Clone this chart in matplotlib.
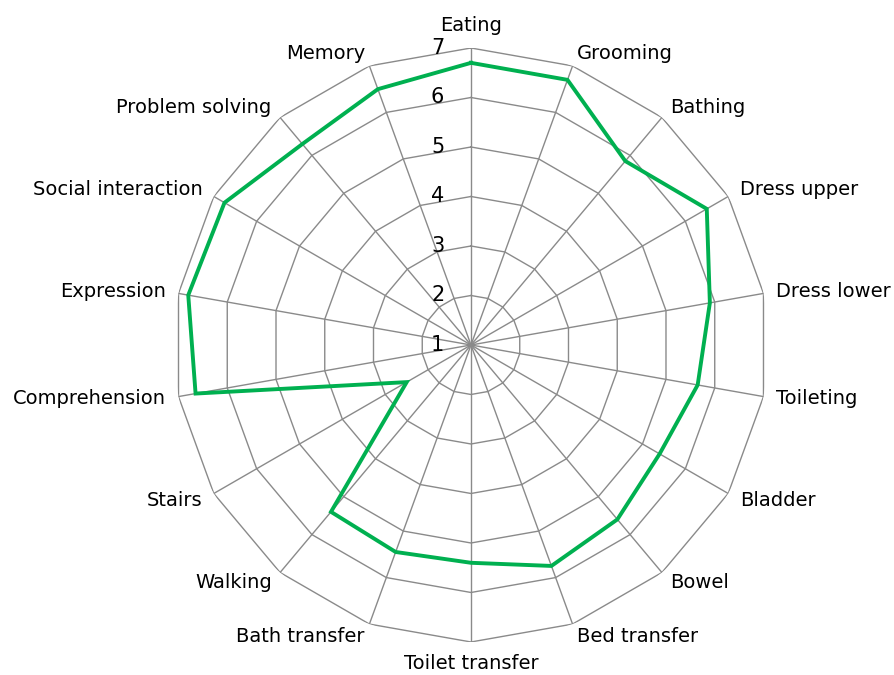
import numpy as np
import matplotlib
matplotlib.use('Agg')
import matplotlib.pyplot as plt

# --- data ---
categories = ['Eating', 'Grooming', 'Bathing', 'Dress upper', 'Dress lower',
              'Toileting', 'Bladder', 'Bowel', 'Bed transfer', 'Toilet transfer',
              'Bath transfer', 'Walking', 'Stairs', 'Comprehension', 'Expression',
              'Social interaction', 'Problem solving', 'Memory']
scores = [6.7, 6.7, 5.85, 6.5, 5.9, 5.65, 5.4, 5.6, 5.75, 5.4,
          5.45, 5.4, 2.5, 6.65, 6.8, 6.75, 6.3, 6.5]
rings = [2, 3, 4, 5, 6, 7]
tick_labels = ['1', '2', '3', '4', '5', '6', '7']

grid_col = '#8a8a8a'
green = '#00b050'

n = len(categories)
angles = np.arange(n) * 2 * np.pi / n

fig = plt.figure(figsize=(8.95, 6.75), dpi=100)
ax = fig.add_axes([0.1944, 0.0489, 0.6637, 0.8800], projection='polar')
ax.set_theta_zero_location('N')
ax.set_theta_direction(-1)
ax.set_ylim(1, 7)
ax.grid(False)
ax.set_xticks([])
ax.set_yticks([])
ax.spines['polar'].set_visible(False)
ax.patch.set_visible(False)

# polygon rings
closed = np.append(angles, angles[0])
for r in rings:
    ax.plot(closed, [r] * (n + 1), color=grid_col, lw=1.0, zorder=1)
# spokes
for a in angles:
    ax.plot([a, a], [1, 7], color=grid_col, lw=1.0, zorder=1)

# the series
vals = scores + scores[:1]
ax.plot(closed, vals, color=green, lw=2.8, zorder=3, solid_joinstyle='miter')

# radial value labels, left of the vertical spoke
for i, t in enumerate(tick_labels):
    ax.annotate(t, xy=(0, i + 1), xytext=(-24, 0), textcoords='offset points',
                ha='center', va='center', fontsize=15, color='black')

# category labels
for a, name in zip(angles, categories):
    s = np.sin(a)
    c = np.cos(a)
    if abs(s) < 0.05:
        ha = 'center'
        va = 'bottom' if c > 0 else 'top'
        off = 9
    else:
        ha = 'left' if s > 0 else 'right'
        va = 'center'
        off = 9.5
    ax.annotate(name, xy=(a, 7), xytext=(off * s, off * c),
                textcoords='offset points', ha=ha, va=va, fontsize=14,
                color='black')

fig.savefig('out.png', dpi=100)
